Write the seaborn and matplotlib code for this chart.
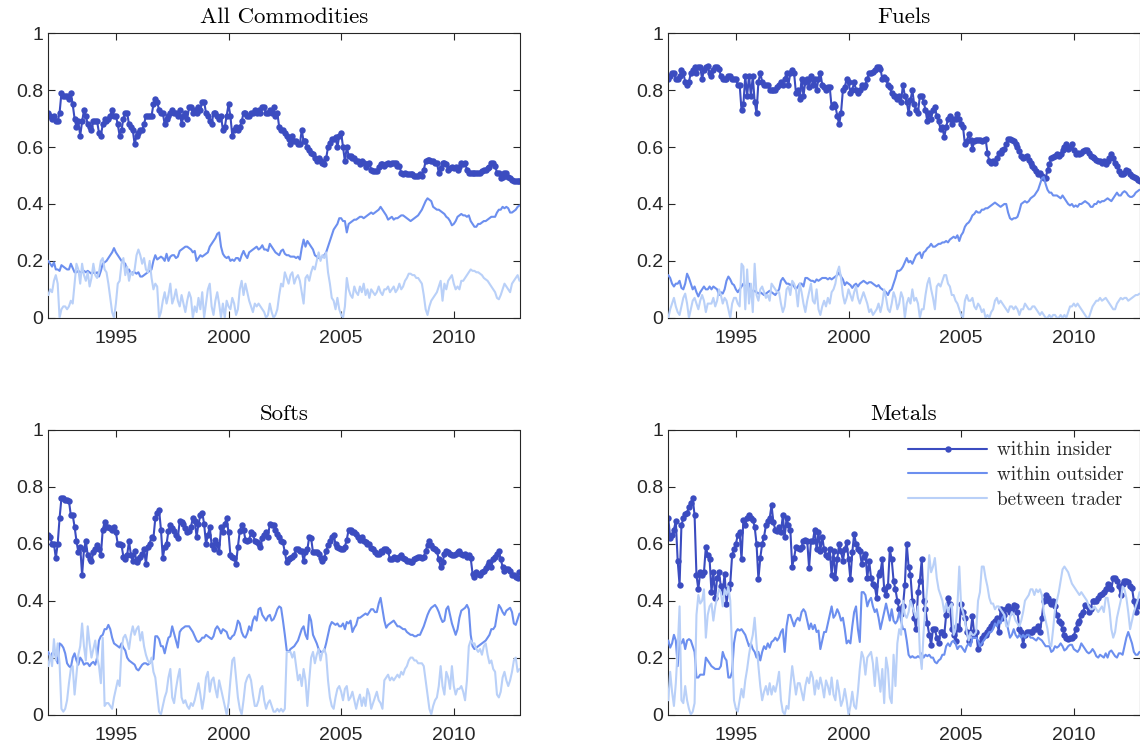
import numpy as np
import pandas as pd
import matplotlib
matplotlib.use("Agg")
import matplotlib.pyplot as plt
import seaborn as sns

# ---------------- data (monthly, Jan 1992 - Dec 2012) ----------------
start_year = 1992
n_months = 252

all_insider = [
    0.72,0.71,0.70,0.71,0.69,0.69,0.72,0.79,0.78,0.78,0.78,0.77,
    0.79,0.75,0.70,0.67,0.69,0.64,0.69,0.73,0.71,0.68,0.67,0.66,
    0.69,0.69,0.69,0.65,0.64,0.68,0.70,0.69,0.70,0.71,0.73,0.71,
    0.71,0.68,0.64,0.66,0.70,0.72,0.72,0.68,0.67,0.66,0.61,0.64,
    0.65,0.66,0.66,0.68,0.71,0.71,0.71,0.71,0.75,0.77,0.76,0.73,
    0.72,0.72,0.68,0.70,0.71,0.72,0.73,0.72,0.72,0.71,0.73,0.68,
    0.71,0.72,0.70,0.74,0.74,0.72,0.73,0.72,0.74,0.73,0.76,0.76,
    0.72,0.71,0.69,0.68,0.72,0.72,0.71,0.70,0.71,0.66,0.67,0.71,
    0.75,0.71,0.64,0.66,0.67,0.66,0.67,0.69,0.72,0.72,0.71,0.71,
    0.72,0.72,0.73,0.72,0.73,0.72,0.74,0.74,0.72,0.72,0.73,0.72,
    0.74,0.71,0.72,0.67,0.66,0.66,0.65,0.64,0.63,0.61,0.64,0.62,
    0.62,0.61,0.61,0.66,0.62,0.62,0.60,0.59,0.58,0.575,0.56,0.55,
    0.56,0.55,0.545,0.54,0.56,0.60,0.615,0.63,0.63,0.635,0.60,0.64,
    0.65,0.60,0.55,0.60,0.57,0.57,0.56,0.56,0.55,0.55,0.54,0.55,
    0.545,0.53,0.54,0.545,0.52,0.515,0.515,0.515,0.53,0.54,0.54,0.535,
    0.54,0.545,0.54,0.545,0.545,0.545,0.535,0.535,0.51,0.505,0.51,0.505,
    0.505,0.505,0.505,0.50,0.50,0.50,0.505,0.50,0.52,0.55,0.555,0.555,
    0.55,0.55,0.545,0.545,0.51,0.525,0.545,0.545,0.54,0.52,0.525,0.53,
    0.525,0.53,0.52,0.53,0.545,0.54,0.545,0.52,0.51,0.51,0.51,0.51,
    0.51,0.51,0.51,0.515,0.52,0.52,0.525,0.53,0.545,0.545,0.535,0.51,
    0.51,0.49,0.495,0.51,0.51,0.495,0.49,0.485,0.48,0.48,0.48,0.48,
]
all_outsider = [
    0.20,0.19,0.18,0.195,0.17,0.17,0.165,0.185,0.18,0.175,0.17,0.17,
    0.19,0.175,0.16,0.16,0.165,0.16,0.16,0.165,0.16,0.165,0.16,0.155,
    0.16,0.155,0.16,0.145,0.165,0.19,0.195,0.20,0.21,0.22,0.23,0.245,
    0.23,0.22,0.21,0.20,0.195,0.19,0.165,0.17,0.155,0.16,0.16,0.155,
    0.16,0.145,0.145,0.15,0.155,0.16,0.165,0.17,0.20,0.22,0.205,0.21,
    0.215,0.21,0.20,0.225,0.20,0.215,0.22,0.22,0.21,0.215,0.235,0.24,
    0.245,0.25,0.25,0.245,0.24,0.23,0.235,0.20,0.21,0.22,0.215,0.22,
    0.225,0.23,0.25,0.26,0.27,0.28,0.295,0.30,0.25,0.225,0.215,0.21,
    0.215,0.20,0.205,0.20,0.21,0.21,0.20,0.22,0.235,0.22,0.21,0.23,
    0.235,0.24,0.245,0.25,0.24,0.245,0.255,0.24,0.24,0.235,0.26,0.25,
    0.24,0.23,0.225,0.22,0.235,0.24,0.225,0.22,0.22,0.215,0.215,0.215,
    0.21,0.215,0.205,0.245,0.275,0.25,0.27,0.26,0.25,0.24,0.22,0.215,
    0.21,0.21,0.215,0.22,0.23,0.25,0.27,0.29,0.31,0.32,0.33,0.35,
    0.35,0.34,0.34,0.30,0.33,0.335,0.34,0.345,0.345,0.35,0.355,0.355,
    0.35,0.355,0.36,0.365,0.37,0.365,0.37,0.375,0.38,0.39,0.38,0.37,
    0.36,0.345,0.35,0.355,0.345,0.35,0.35,0.355,0.36,0.36,0.355,0.35,
    0.345,0.34,0.345,0.35,0.355,0.36,0.37,0.38,0.395,0.41,0.42,0.415,
    0.41,0.39,0.385,0.38,0.38,0.375,0.37,0.365,0.355,0.35,0.34,0.325,
    0.33,0.34,0.355,0.36,0.365,0.36,0.36,0.355,0.36,0.34,0.33,0.32,
    0.32,0.33,0.33,0.335,0.34,0.34,0.345,0.35,0.355,0.355,0.355,0.37,
    0.38,0.38,0.39,0.385,0.39,0.385,0.37,0.37,0.375,0.38,0.39,0.395,
]
all_between = [
    0.08,0.10,0.09,0.13,0.15,0.12,0.00,0.03,0.04,0.04,0.03,0.04,
    0.06,0.05,0.12,0.19,0.17,0.12,0.19,0.15,0.13,0.16,0.11,0.14,
    0.19,0.15,0.14,0.16,0.20,0.21,0.17,0.16,0.12,0.07,0.02,0.00,
    0.05,0.12,0.13,0.19,0.21,0.15,0.18,0.13,0.16,0.15,0.17,0.22,
    0.24,0.22,0.19,0.21,0.17,0.16,0.20,0.14,0.10,0.12,0.11,0.00,
    0.02,0.06,0.09,0.05,0.08,0.12,0.05,0.07,0.10,0.06,0.04,0.08,
    0.05,0.02,0.06,0.09,0.07,0.00,0.04,0.02,0.07,0.03,0.09,0.00,
    0.05,0.10,0.12,0.04,0.01,0.06,0.09,0.05,0.00,0.05,0.00,0.06,
    0.04,0.03,0.07,0.05,0.01,0.03,0.10,0.13,0.08,0.12,0.09,0.06,
    0.04,0.02,0.05,0.04,0.05,0.04,0.03,0.02,0.00,0.01,0.05,0.02,
    0.00,0.01,0.03,0.08,0.12,0.11,0.16,0.14,0.12,0.15,0.16,0.12,
    0.14,0.15,0.13,0.09,0.05,0.14,0.15,0.13,0.16,0.18,0.17,0.20,
    0.23,0.20,0.22,0.21,0.23,0.16,0.12,0.07,0.06,0.03,0.07,0.03,
    0.01,0.00,0.04,0.14,0.10,0.08,0.07,0.11,0.09,0.08,0.11,0.09,
    0.12,0.08,0.10,0.07,0.10,0.09,0.08,0.09,0.11,0.09,0.08,0.10,
    0.10,0.11,0.09,0.10,0.11,0.09,0.10,0.12,0.10,0.11,0.13,0.14,
    0.155,0.155,0.15,0.15,0.14,0.14,0.13,0.12,0.08,0.03,0.01,0.04,
    0.06,0.07,0.08,0.09,0.11,0.13,0.06,0.12,0.10,0.13,0.14,0.15,
    0.12,0.10,0.11,0.10,0.13,0.13,0.14,0.15,0.16,0.17,0.165,0.165,
    0.16,0.16,0.155,0.15,0.14,0.135,0.13,0.12,0.11,0.10,0.09,0.07,
    0.065,0.08,0.10,0.12,0.11,0.10,0.09,0.12,0.13,0.14,0.15,0.13,
]

fuels_insider = [
    0.84,0.85,0.86,0.86,0.84,0.84,0.85,0.87,0.86,0.83,0.82,0.83,
    0.86,0.87,0.88,0.86,0.88,0.88,0.84,0.87,0.88,0.885,0.86,0.85,
    0.87,0.88,0.88,0.875,0.85,0.84,0.84,0.84,0.85,0.85,0.84,0.84,
    0.84,0.82,0.82,0.73,0.75,0.85,0.78,0.85,0.78,0.85,0.76,0.72,
    0.83,0.86,0.83,0.82,0.82,0.82,0.80,0.80,0.80,0.80,0.81,0.82,
    0.83,0.82,0.84,0.86,0.82,0.86,0.87,0.86,0.79,0.80,0.77,0.84,
    0.78,0.83,0.84,0.81,0.85,0.82,0.84,0.80,0.84,0.86,0.82,0.81,
    0.80,0.81,0.81,0.74,0.75,0.745,0.71,0.68,0.72,0.80,0.81,0.84,
    0.83,0.79,0.80,0.83,0.80,0.79,0.80,0.82,0.81,0.82,0.84,0.86,
    0.86,0.865,0.87,0.88,0.88,0.875,0.84,0.845,0.84,0.82,0.81,0.79,
    0.78,0.78,0.77,0.78,0.76,0.82,0.78,0.76,0.72,0.765,0.80,0.75,
    0.73,0.72,0.78,0.78,0.76,0.73,0.69,0.72,0.70,0.73,0.74,0.71,
    0.69,0.665,0.67,0.635,0.67,0.70,0.71,0.68,0.70,0.70,0.715,0.70,
    0.68,0.67,0.61,0.62,0.645,0.625,0.595,0.62,0.625,0.625,0.625,0.62,
    0.625,0.63,0.58,0.55,0.545,0.55,0.545,0.56,0.58,0.58,0.59,0.595,
    0.61,0.63,0.63,0.625,0.62,0.61,0.60,0.585,0.57,0.56,0.565,0.57,
    0.555,0.545,0.535,0.525,0.515,0.505,0.51,0.50,0.49,0.49,0.52,0.54,
    0.56,0.565,0.57,0.575,0.57,0.575,0.59,0.60,0.61,0.595,0.60,0.61,
    0.59,0.575,0.58,0.575,0.58,0.585,0.59,0.59,0.58,0.57,0.565,0.56,
    0.555,0.55,0.55,0.545,0.55,0.54,0.55,0.56,0.575,0.56,0.545,0.535,
    0.515,0.505,0.505,0.51,0.52,0.515,0.505,0.50,0.495,0.49,0.485,0.48,
]
fuels_outsider = [
    0.15,0.14,0.12,0.11,0.12,0.12,0.13,0.105,0.10,0.12,0.155,0.14,
    0.12,0.10,0.11,0.09,0.075,0.09,0.10,0.11,0.10,0.10,0.11,0.10,
    0.11,0.105,0.10,0.08,0.09,0.085,0.10,0.13,0.145,0.135,0.12,0.115,
    0.10,0.09,0.10,0.11,0.12,0.11,0.115,0.12,0.10,0.09,0.095,0.09,
    0.085,0.09,0.085,0.08,0.085,0.09,0.095,0.09,0.085,0.08,0.09,0.10,
    0.13,0.14,0.13,0.12,0.12,0.115,0.12,0.11,0.10,0.11,0.12,0.12,
    0.11,0.14,0.14,0.135,0.13,0.13,0.125,0.135,0.13,0.135,0.14,0.14,
    0.14,0.135,0.14,0.135,0.14,0.145,0.15,0.16,0.145,0.135,0.115,0.125,
    0.12,0.115,0.105,0.115,0.12,0.11,0.12,0.125,0.13,0.125,0.12,0.125,
    0.125,0.12,0.115,0.11,0.115,0.105,0.10,0.095,0.09,0.08,0.095,0.10,
    0.12,0.14,0.165,0.165,0.17,0.18,0.195,0.21,0.195,0.20,0.19,0.205,
    0.22,0.225,0.23,0.21,0.23,0.235,0.245,0.25,0.26,0.25,0.25,0.255,
    0.26,0.26,0.265,0.265,0.27,0.265,0.275,0.28,0.285,0.28,0.29,0.27,
    0.29,0.30,0.32,0.33,0.335,0.345,0.36,0.365,0.375,0.37,0.37,0.38,
    0.38,0.385,0.385,0.39,0.395,0.40,0.405,0.40,0.395,0.39,0.395,0.40,
    0.40,0.37,0.35,0.345,0.35,0.35,0.355,0.375,0.40,0.405,0.41,0.405,
    0.41,0.42,0.425,0.43,0.44,0.45,0.47,0.49,0.495,0.47,0.45,0.44,
    0.44,0.43,0.43,0.43,0.425,0.42,0.43,0.42,0.41,0.40,0.395,0.40,
    0.39,0.395,0.39,0.40,0.40,0.405,0.41,0.405,0.40,0.39,0.39,0.40,
    0.40,0.41,0.405,0.41,0.41,0.415,0.42,0.415,0.41,0.42,0.43,0.44,
    0.43,0.43,0.44,0.445,0.44,0.43,0.425,0.425,0.43,0.44,0.445,0.45,
]
fuels_between = [
    0.00,0.03,0.05,0.07,0.04,0.02,0.01,0.04,0.07,0.085,0.05,0.00,
    0.03,0.06,0.07,0.05,0.03,0.06,0.08,0.06,0.02,0.05,0.05,0.05,
    0.07,0.04,0.06,0.10,0.08,0.05,0.07,0.06,0.03,0.00,0.05,0.07,
    0.07,0.05,0.04,0.19,0.18,0.03,0.17,0.05,0.12,0.02,0.19,0.08,
    0.06,0.10,0.11,0.09,0.07,0.08,0.06,0.12,0.11,0.10,0.09,0.09,
    0.05,0.02,0.04,0.10,0.11,0.08,0.13,0.12,0.10,0.04,0.12,0.09,
    0.05,0.02,0.06,0.09,0.12,0.06,0.05,0.10,0.03,0.01,0.04,0.06,
    0.04,0.07,0.05,0.09,0.10,0.12,0.16,0.18,0.14,0.08,0.05,0.07,
    0.10,0.08,0.06,0.09,0.11,0.07,0.05,0.07,0.09,0.07,0.05,0.02,
    0.03,0.01,0.02,0.03,0.05,0.02,0.05,0.10,0.07,0.03,0.02,0.05,
    0.09,0.07,0.03,0.05,0.09,0.07,0.00,0.05,0.07,0.05,0.10,0.06,
    0.07,0.05,0.00,0.03,0.03,0.08,0.12,0.14,0.10,0.07,0.03,0.11,
    0.12,0.11,0.13,0.15,0.15,0.12,0.11,0.08,0.08,0.06,0.05,0.03,
    0.01,0.00,0.06,0.08,0.06,0.06,0.07,0.04,0.03,0.05,0.04,0.02,
    0.03,0.00,0.01,0.00,0.02,0.03,0.06,0.07,0.05,0.06,0.05,0.04,
    0.03,0.02,0.04,0.04,0.03,0.04,0.03,0.01,0.03,0.03,0.05,0.04,
    0.03,0.03,0.04,0.04,0.03,0.02,0.01,0.02,0.01,0.00,0.00,0.01,
    0.00,0.01,0.01,0.00,0.00,0.01,0.00,0.01,0.00,0.02,0.04,0.04,
    0.05,0.04,0.05,0.04,0.03,0.02,0.01,0.00,0.00,0.02,0.04,0.05,
    0.06,0.06,0.07,0.06,0.065,0.07,0.06,0.05,0.04,0.03,0.03,0.05,
    0.06,0.07,0.065,0.07,0.07,0.06,0.065,0.07,0.075,0.08,0.08,0.085,
]

softs_insider = [
    0.63,0.625,0.60,0.60,0.55,0.60,0.69,0.76,0.76,0.755,0.755,0.75,
    0.70,0.70,0.66,0.61,0.57,0.59,0.49,0.58,0.61,0.56,0.545,0.54,
    0.57,0.58,0.595,0.58,0.56,0.65,0.675,0.66,0.66,0.655,0.65,0.66,
    0.64,0.60,0.60,0.595,0.555,0.545,0.56,0.61,0.56,0.54,0.575,0.535,
    0.545,0.555,0.565,0.58,0.53,0.59,0.60,0.625,0.62,0.69,0.71,0.72,
    0.65,0.55,0.59,0.60,0.645,0.665,0.655,0.645,0.63,0.62,0.68,0.675,
    0.67,0.655,0.64,0.645,0.66,0.69,0.68,0.625,0.67,0.70,0.71,0.67,
    0.60,0.63,0.66,0.595,0.58,0.615,0.60,0.57,0.66,0.64,0.67,0.69,
    0.64,0.56,0.555,0.55,0.53,0.59,0.645,0.665,0.65,0.615,0.61,0.615,
    0.64,0.635,0.61,0.605,0.60,0.59,0.62,0.63,0.64,0.625,0.67,0.665,
    0.665,0.65,0.635,0.625,0.61,0.605,0.57,0.535,0.545,0.55,0.555,0.56,
    0.58,0.58,0.575,0.575,0.54,0.57,0.58,0.625,0.62,0.57,0.57,0.57,
    0.565,0.55,0.54,0.55,0.575,0.595,0.61,0.625,0.63,0.60,0.59,0.585,
    0.58,0.58,0.59,0.615,0.65,0.65,0.64,0.64,0.635,0.625,0.615,0.625,
    0.61,0.605,0.60,0.60,0.585,0.58,0.57,0.565,0.565,0.575,0.57,0.58,
    0.58,0.575,0.545,0.545,0.555,0.55,0.545,0.555,0.56,0.55,0.545,0.54,
    0.54,0.535,0.535,0.545,0.55,0.555,0.555,0.55,0.555,0.575,0.595,0.61,
    0.595,0.585,0.58,0.575,0.545,0.52,0.535,0.565,0.575,0.57,0.565,0.56,
    0.56,0.565,0.57,0.575,0.565,0.56,0.565,0.555,0.56,0.55,0.495,0.485,
    0.50,0.495,0.49,0.50,0.505,0.515,0.525,0.535,0.52,0.545,0.555,0.565,
    0.575,0.545,0.52,0.505,0.51,0.51,0.505,0.49,0.49,0.485,0.48,0.50,
]
softs_outsider = [
    0.22,0.20,0.215,0.22,0.205,0.18,0.25,0.245,0.235,0.215,0.18,0.17,
    0.165,0.20,0.215,0.19,0.175,0.20,0.19,0.175,0.18,0.18,0.17,0.18,
    0.185,0.175,0.20,0.26,0.275,0.28,0.30,0.30,0.315,0.30,0.27,0.25,
    0.245,0.24,0.235,0.25,0.235,0.225,0.20,0.19,0.185,0.18,0.175,0.16,
    0.155,0.165,0.175,0.18,0.18,0.175,0.18,0.19,0.195,0.275,0.275,0.265,
    0.24,0.24,0.215,0.245,0.27,0.275,0.31,0.285,0.26,0.235,0.29,0.30,
    0.305,0.31,0.31,0.31,0.30,0.29,0.275,0.26,0.255,0.26,0.27,0.27,
    0.28,0.275,0.27,0.265,0.275,0.30,0.31,0.30,0.285,0.30,0.295,0.29,
    0.27,0.265,0.275,0.28,0.30,0.33,0.32,0.29,0.275,0.27,0.285,0.31,
    0.295,0.33,0.345,0.33,0.37,0.375,0.35,0.34,0.33,0.345,0.35,0.33,
    0.335,0.35,0.37,0.38,0.375,0.33,0.28,0.225,0.22,0.23,0.235,0.24,
    0.25,0.26,0.28,0.30,0.31,0.28,0.265,0.35,0.33,0.28,0.265,0.25,
    0.23,0.22,0.22,0.225,0.25,0.28,0.31,0.325,0.32,0.315,0.32,0.31,
    0.31,0.32,0.30,0.325,0.32,0.33,0.29,0.305,0.315,0.34,0.34,0.345,
    0.35,0.355,0.35,0.36,0.37,0.37,0.36,0.36,0.39,0.41,0.37,0.33,
    0.305,0.315,0.32,0.325,0.33,0.32,0.31,0.31,0.305,0.30,0.30,0.29,
    0.285,0.28,0.28,0.275,0.275,0.28,0.28,0.295,0.31,0.33,0.35,0.365,
    0.375,0.38,0.385,0.375,0.36,0.34,0.325,0.33,0.37,0.38,0.35,0.32,
    0.30,0.28,0.30,0.34,0.365,0.37,0.375,0.385,0.37,0.28,0.24,0.23,
    0.235,0.24,0.245,0.25,0.255,0.26,0.27,0.28,0.30,0.30,0.31,0.35,
    0.385,0.375,0.36,0.35,0.365,0.37,0.375,0.36,0.32,0.315,0.335,0.355,
]
softs_between = [
    0.17,0.21,0.17,0.265,0.19,0.25,0.18,0.02,0.01,0.02,0.05,0.11,
    0.16,0.17,0.07,0.14,0.21,0.24,0.32,0.24,0.19,0.31,0.25,0.20,
    0.23,0.26,0.20,0.17,0.11,0.27,0.03,0.04,0.04,0.03,0.02,0.06,
    0.09,0.12,0.10,0.23,0.27,0.28,0.26,0.23,0.28,0.31,0.28,0.30,
    0.31,0.26,0.29,0.24,0.21,0.19,0.18,0.20,0.15,0.13,0.07,0.01,
    0.00,0.03,0.06,0.08,0.13,0.16,0.06,0.04,0.09,0.13,0.16,0.06,
    0.04,0.05,0.03,0.02,0.04,0.03,0.05,0.08,0.11,0.07,0.02,0.06,
    0.13,0.15,0.08,0.12,0.13,0.09,0.06,0.12,0.09,0.06,0.03,0.00,
    0.04,0.12,0.19,0.20,0.13,0.06,0.02,0.00,0.05,0.11,0.13,0.14,
    0.12,0.07,0.03,0.03,0.05,0.09,0.10,0.05,0.02,0.04,0.05,0.03,
    0.01,0.01,0.02,0.01,0.02,0.01,0.02,0.22,0.22,0.22,0.20,0.22,
    0.17,0.12,0.14,0.10,0.16,0.12,0.03,0.12,0.20,0.22,0.18,0.21,
    0.23,0.19,0.22,0.23,0.21,0.12,0.06,0.03,0.02,0.06,0.09,0.10,
    0.08,0.05,0.09,0.10,0.05,0.06,0.08,0.05,0.02,0.05,0.07,0.03,
    0.06,0.03,0.09,0.07,0.02,0.04,0.06,0.08,0.05,0.04,0.02,0.12,
    0.13,0.14,0.12,0.13,0.12,0.13,0.14,0.13,0.15,0.14,0.16,0.17,
    0.19,0.20,0.20,0.19,0.19,0.18,0.18,0.18,0.17,0.12,0.07,0.02,
    0.00,0.03,0.05,0.06,0.10,0.17,0.10,0.07,0.15,0.13,0.09,0.17,
    0.10,0.07,0.09,0.09,0.10,0.08,0.05,0.12,0.24,0.26,0.25,0.25,
    0.23,0.22,0.23,0.21,0.24,0.25,0.21,0.18,0.19,0.16,0.15,0.07,
    0.06,0.08,0.13,0.15,0.12,0.10,0.12,0.15,0.19,0.20,0.15,0.16,
]

metals_insider = [
    0.69,0.62,0.63,0.65,0.68,0.54,0.455,0.665,0.69,0.705,0.71,0.73,
    0.745,0.76,0.70,0.49,0.44,0.50,0.49,0.50,0.59,0.56,0.545,0.43,
    0.50,0.41,0.48,0.50,0.45,0.43,0.495,0.39,0.44,0.46,0.56,0.58,
    0.60,0.63,0.64,0.545,0.685,0.665,0.69,0.70,0.69,0.685,0.66,0.60,
    0.475,0.55,0.60,0.625,0.665,0.68,0.69,0.735,0.675,0.65,0.645,0.66,
    0.64,0.70,0.625,0.69,0.665,0.65,0.52,0.55,0.59,0.585,0.58,0.59,
    0.61,0.615,0.61,0.515,0.61,0.61,0.65,0.58,0.64,0.575,0.625,0.58,
    0.56,0.555,0.58,0.49,0.575,0.48,0.545,0.60,0.575,0.54,0.58,0.605,
    0.545,0.475,0.57,0.635,0.60,0.58,0.575,0.53,0.555,0.565,0.48,0.54,
    0.48,0.46,0.45,0.41,0.49,0.50,0.545,0.44,0.42,0.45,0.58,0.545,
    0.47,0.44,0.40,0.37,0.355,0.38,0.455,0.60,0.52,0.49,0.40,0.34,
    0.30,0.43,0.47,0.545,0.40,0.37,0.32,0.28,0.245,0.30,0.30,0.27,
    0.25,0.29,0.29,0.28,0.35,0.41,0.39,0.30,0.28,0.26,0.31,0.30,
    0.39,0.36,0.34,0.29,0.26,0.29,0.345,0.28,0.29,0.23,0.25,0.27,
    0.28,0.28,0.29,0.30,0.31,0.32,0.33,0.34,0.29,0.37,0.34,0.35,
    0.37,0.38,0.36,0.37,0.385,0.38,0.36,0.30,0.29,0.245,0.28,0.29,
    0.29,0.29,0.29,0.30,0.30,0.31,0.29,0.34,0.40,0.42,0.41,0.40,
    0.39,0.40,0.38,0.35,0.33,0.32,0.30,0.28,0.27,0.265,0.27,0.27,
    0.275,0.30,0.32,0.33,0.35,0.36,0.385,0.38,0.36,0.37,0.40,0.40,
    0.40,0.41,0.42,0.425,0.43,0.44,0.46,0.455,0.44,0.48,0.48,0.47,
    0.45,0.42,0.46,0.47,0.47,0.465,0.45,0.445,0.40,0.36,0.38,0.40,
]
metals_outsider = [
    0.26,0.235,0.25,0.28,0.26,0.17,0.26,0.25,0.265,0.23,0.26,0.265,
    0.26,0.24,0.22,0.13,0.13,0.14,0.14,0.14,0.20,0.19,0.18,0.17,
    0.165,0.16,0.16,0.16,0.17,0.22,0.20,0.19,0.13,0.13,0.15,0.25,
    0.29,0.30,0.295,0.30,0.29,0.28,0.26,0.24,0.25,0.23,0.22,0.20,
    0.22,0.19,0.22,0.24,0.23,0.25,0.235,0.255,0.26,0.27,0.26,0.27,
    0.29,0.30,0.22,0.31,0.35,0.35,0.33,0.31,0.33,0.34,0.33,0.36,
    0.37,0.36,0.33,0.30,0.32,0.30,0.315,0.29,0.295,0.23,0.26,0.29,
    0.29,0.32,0.35,0.38,0.34,0.35,0.37,0.355,0.33,0.34,0.30,0.25,
    0.26,0.25,0.31,0.36,0.38,0.30,0.255,0.43,0.43,0.42,0.38,0.40,
    0.41,0.38,0.36,0.37,0.34,0.30,0.33,0.36,0.39,0.36,0.33,0.37,
    0.33,0.32,0.33,0.36,0.33,0.30,0.30,0.26,0.21,0.20,0.205,0.20,
    0.20,0.205,0.20,0.215,0.20,0.21,0.205,0.21,0.20,0.20,0.185,0.18,
    0.19,0.195,0.21,0.21,0.24,0.25,0.24,0.255,0.26,0.25,0.23,0.24,
    0.24,0.23,0.22,0.24,0.25,0.24,0.27,0.27,0.27,0.26,0.24,0.25,
    0.26,0.27,0.28,0.29,0.29,0.30,0.32,0.31,0.33,0.32,0.34,0.35,
    0.33,0.30,0.27,0.28,0.30,0.28,0.27,0.28,0.27,0.28,0.27,0.28,
    0.28,0.27,0.27,0.265,0.26,0.27,0.265,0.26,0.25,0.24,0.24,0.24,
    0.22,0.225,0.24,0.235,0.24,0.25,0.24,0.225,0.23,0.24,0.245,0.245,
    0.23,0.225,0.22,0.23,0.25,0.24,0.23,0.22,0.215,0.22,0.23,0.22,
    0.205,0.20,0.21,0.205,0.20,0.215,0.20,0.22,0.225,0.215,0.205,0.20,
    0.215,0.215,0.21,0.24,0.27,0.29,0.27,0.25,0.22,0.21,0.21,0.22,
]
metals_between = [
    0.05,0.15,0.08,0.03,0.11,0.23,0.38,0.05,0.04,0.10,0.05,0.02,
    0.00,0.01,0.04,0.35,0.42,0.39,0.40,0.44,0.27,0.35,0.38,0.39,
    0.33,0.38,0.41,0.44,0.43,0.38,0.44,0.42,0.45,0.40,0.22,0.05,
    0.02,0.01,0.05,0.09,0.06,0.12,0.16,0.21,0.25,0.28,0.34,0.25,
    0.17,0.10,0.05,0.08,0.10,0.07,0.11,0.07,0.10,0.08,0.11,0.15,
    0.05,0.01,0.00,0.03,0.02,0.10,0.17,0.12,0.07,0.11,0.11,0.08,
    0.05,0.10,0.13,0.11,0.15,0.13,0.07,0.12,0.09,0.13,0.10,0.06,
    0.12,0.10,0.07,0.13,0.07,0.05,0.12,0.08,0.03,0.05,0.09,0.05,
    0.00,0.03,0.08,0.03,0.02,0.08,0.16,0.22,0.20,0.14,0.20,0.21,
    0.22,0.18,0.10,0.20,0.14,0.08,0.16,0.04,0.20,0.16,0.06,0.04,
    0.21,0.10,0.25,0.30,0.28,0.40,0.35,0.34,0.36,0.40,0.38,0.36,
    0.34,0.38,0.22,0.16,0.29,0.38,0.45,0.56,0.50,0.52,0.55,0.48,
    0.44,0.42,0.40,0.36,0.39,0.36,0.38,0.39,0.28,0.30,0.38,0.52,
    0.38,0.36,0.33,0.29,0.26,0.29,0.28,0.28,0.29,0.40,0.43,0.52,
    0.52,0.48,0.45,0.41,0.39,0.39,0.37,0.38,0.38,0.37,0.36,0.35,
    0.31,0.31,0.34,0.36,0.35,0.33,0.32,0.31,0.33,0.36,0.40,0.41,
    0.42,0.44,0.44,0.42,0.44,0.43,0.44,0.42,0.36,0.33,0.30,0.25,
    0.24,0.30,0.37,0.40,0.43,0.47,0.51,0.52,0.51,0.50,0.48,0.46,
    0.45,0.44,0.43,0.42,0.43,0.42,0.41,0.40,0.38,0.37,0.37,0.38,
    0.37,0.36,0.37,0.38,0.36,0.41,0.41,0.37,0.30,0.27,0.29,0.34,
    0.37,0.40,0.45,0.44,0.41,0.36,0.30,0.33,0.36,0.38,0.40,0.43,
]

panel_titles = ["All Commodities", "Fuels", "Softs", "Metals"]
series_labels = ["within insider", "within outsider", "between trader"]
x_ticks = [1995, 2000, 2005, 2010]
y_ticks = [0, 0.2, 0.4, 0.6, 0.8, 1]
y_tick_labels = ["0", "0.2", "0.4", "0.6", "0.8", "1"]

# ---------------- style ----------------
sns.set_theme(style="ticks")
plt.rcParams["font.family"] = ["Liberation Sans", "DejaVu Sans"]
colors = ["#3b4cc0", "#6c8fef", "#b9d0f8"]
TXT = "#262626"

fig = plt.figure(figsize=(11.4, 7.52), dpi=100)
FW, FH = 1140.0, 752.0
ax_w, ax_h = 471.2, 284.5
origins = [(48.3, 33.3), (668.3, 33.3), (48.3, 430.0), (668.3, 430.0)]

t = start_year + np.arange(n_months) / 12.0
panel_data = [
    (all_insider, all_outsider, all_between),
    (fuels_insider, fuels_outsider, fuels_between),
    (softs_insider, softs_outsider, softs_between),
    (metals_insider, metals_outsider, metals_between),
]

for k, (title, (ins, out, btw), (x0, y0)) in enumerate(zip(panel_titles, panel_data, origins)):
    ax = fig.add_axes([x0 / FW, 1 - (y0 + ax_h) / FH, ax_w / FW, ax_h / FH])
    df = pd.DataFrame({"t": t, series_labels[0]: ins, series_labels[1]: out,
                       series_labels[2]: btw})
    sns.lineplot(data=df, x="t", y=series_labels[0], ax=ax, color=colors[0],
                 lw=1.5, marker="o", markersize=4.6, markeredgewidth=0,
                 label=series_labels[0], zorder=2)
    sns.lineplot(data=df, x="t", y=series_labels[1], ax=ax, color=colors[1],
                 lw=1.5, label=series_labels[1], zorder=3)
    sns.lineplot(data=df, x="t", y=series_labels[2], ax=ax, color=colors[2],
                 lw=1.5, label=series_labels[2], zorder=4)

    ax.set_xlim(t[0], t[-1])
    ax.set_ylim(0, 1)
    ax.set_xticks(x_ticks)
    ax.set_xticklabels([str(v) for v in x_ticks])
    ax.set_yticks(y_ticks)
    ax.set_yticklabels(y_tick_labels)
    ax.set_xlabel("")
    ax.set_ylabel("")
    ax.tick_params(axis="both", direction="in", top=True, right=True,
                   length=5, width=0.8, labelsize=14, colors=TXT)
    ax.tick_params(axis="x", pad=9)
    ax.tick_params(axis="y", pad=3.5)
    for sp in ax.spines.values():
        sp.set_visible(True)
        sp.set_color(TXT)
        sp.set_linewidth(0.8)
    ax.set_title(title, family="cmr10", fontsize=16.5, color="black", pad=7.5)

    leg = ax.get_legend()
    if leg is not None:
        leg.remove()
    if k == 3:
        ax.legend(loc="upper right", frameon=False,
                  prop={"family": "cmr10", "size": 13.8},
                  handlelength=4.1, handletextpad=0.5, labelspacing=0.35,
                  borderaxespad=0.2, bbox_to_anchor=(0.99, 1.0))

fig.savefig("out.png", dpi=100)
